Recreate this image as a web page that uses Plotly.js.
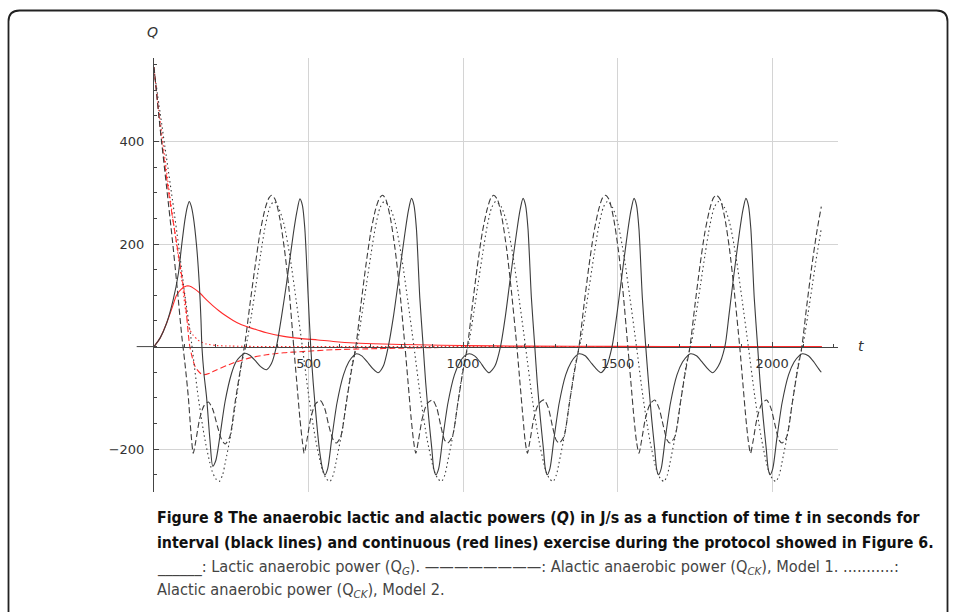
<!DOCTYPE html>
<html>
<head>
<meta charset="utf-8">
<script src="https://cdn.plot.ly/plotly-3.0.1.min.js"></script>
<style>
html,body{margin:0;padding:0;background:#fff;}
#chart{width:956px;height:612px;}
</style>
</head>
<body>
<div id="chart"></div>
<script>
// ---------- DATA ----------
// Black solid: lactic anaerobic power Q_G, interval exercise
const tG = [0,20,41,62,79,89,100,108,114,120,127,138,147,152,155,162,170,181,190,200,213,230,251,265,278,294,310,327,345,364,380,397,413,429,451,462,472,480,488,499,507,
515,525,535,545,553,562,575,592,613,630,645,655,672,690,708,725,742,758,775,790,812,823,833,841,849,860,871,
879,889,899,905,912,921,934,951,972,990,1005,1020,1037,1055,1070,1084,1103,1121,1137,1151,1173,1184,1194,1202,1210,1221,1232,
1240,1250,1260,1266,1272,1281,1294,1311,1332,1350,1365,1375,1395,1412,1430,1446,1464,1482,1497,1511,1532,1543,1553,1561,1569,1580,1591,
1600,1610,1620,1626,1632,1641,1654,1671,1692,1710,1726,1736,1755,1773,1791,1807,1826,1847,1860,1873,1894,1905,1915,1923,1931,1942,1953,
1961,1971,1981,1987,1993,2002,2015,2032,2053,2071,2087,2098,2117,2135,2150,2159];
const qG = [0,17,46,91,143,195,247,273,283,275,254,195,117,52,0,-55,-98,-182,-233,-222,-176,-107,-52,-30,-20,-13,-17,-27,-39,-45,-33,3,60,124,221,262,288,276,230,95,0,
-70,-140,-200,-238,-250,-238,-180,-110,-55,-30,-18,-14,-18,-30,-43,-51,-38,0,60,125,222,265,289,276,230,95,0,
-70,-140,-200,-238,-250,-238,-180,-110,-55,-30,-18,-14,-18,-30,-43,-51,-38,0,60,125,222,265,289,276,230,95,0,
-70,-140,-200,-238,-250,-238,-180,-110,-55,-30,-18,-14,-18,-30,-43,-51,-38,0,60,125,222,265,289,276,230,95,0,
-70,-140,-200,-238,-250,-238,-180,-110,-55,-30,-18,-14,-18,-30,-43,-51,-38,0,60,125,222,265,289,276,230,95,0,
-70,-140,-200,-238,-250,-238,-180,-110,-55,-30,-18,-14,-18,-30,-43,-50];

// Black dashed: alactic anaerobic power Q_CK, Model 1, interval exercise
const tD = [0,20,40,60,75,90,100,111,119,127,135,148,162,176,190,205,218,230,245,262,278,295,311,327,343,360,372,381,
392,407,422,437,452,462,472,480,486,494,507,522,538,552,566,580,590,604,622,638,653,669,685,701,717,730,740,
750,765,780,795,812,822,832,840,847,855,868,883,901,915,928,940,950,965,983,999,1014,1030,1046,1062,1078,1090,1099,
1111,1126,1141,1156,1174,1184,1194,1201,1208,1216,1229,1244,1262,1276,1289,1301,1311,1326,1344,1360,1375,1391,1407,1423,1439,1451,1460,
1472,1487,1502,1517,1533,1543,1553,1561,1569,1577,1590,1605,1620,1634,1648,1660,1669,1685,1703,1719,1734,1750,1766,1782,1798,1810,1820,
1832,1847,1862,1877,1895,1905,1915,1923,1930,1938,1951,1966,1982,1996,2010,2022,2032,2047,2065,2081,2096,2112,2128,2144,2159];
const qD = [545,425,315,205,115,20,-32,-98,-163,-208,-185,-140,-115,-108,-122,-155,-180,-190,-176,-110,-50,10,85,156,222,270,290,295,
287,250,190,110,0,-70,-140,-185,-208,-185,-140,-112,-105,-120,-155,-182,-188,-176,-110,-50,0,80,156,222,268,290,295,
287,250,190,110,0,-70,-140,-185,-208,-185,-140,-112,-104,-120,-155,-182,-188,-176,-110,-50,0,80,156,222,268,290,295,
287,250,190,110,0,-70,-140,-185,-208,-185,-140,-112,-104,-120,-155,-182,-188,-176,-110,-50,0,80,156,222,268,290,295,
287,250,190,110,0,-70,-140,-185,-208,-185,-140,-112,-104,-120,-155,-182,-188,-176,-110,-50,0,80,156,222,268,290,295,
287,250,190,110,0,-70,-140,-185,-208,-185,-140,-112,-104,-120,-155,-182,-188,-176,-110,-50,0,80,156,222,273];

// Black dotted: alactic anaerobic power Q_CK, Model 2, interval exercise
const tM = [0,20,40,60,80,100,116,122,143,165,187,200,211,222,230,251,267,284,300,315,330,345,360,375,388,
402,420,440,460,480,501,523,545,558,569,580,588,609,625,642,658,672,687,702,717,732,745,
763,781,801,821,841,862,884,906,919,930,941,949,970,986,1003,1019,1033,1048,1063,1078,1093,1106,
1124,1142,1162,1182,1202,1223,1245,1267,1280,1291,1302,1310,1331,1347,1364,1380,1394,1409,1424,1439,1454,1467,
1483,1501,1521,1541,1561,1582,1604,1626,1639,1650,1661,1669,1690,1706,1723,1739,1753,1768,1783,1798,1813,1827,
1845,1863,1883,1903,1923,1944,1966,1988,2001,2012,2023,2031,2052,2068,2085,2101,2115,2130,2145,2159];
const qM = [540,455,370,285,195,100,33,5,-98,-182,-241,-258,-263,-250,-228,-163,-98,-32,8,60,120,180,235,272,283,
272,240,175,90,0,-98,-182,-241,-258,-263,-250,-228,-163,-98,-32,8,60,120,180,235,272,283,
272,240,175,90,0,-98,-182,-241,-258,-263,-250,-228,-163,-98,-32,8,60,120,180,235,272,283,
272,240,175,90,0,-98,-182,-241,-258,-263,-250,-228,-163,-98,-32,8,60,120,180,235,272,283,
272,240,175,90,0,-98,-182,-241,-258,-263,-250,-228,-163,-98,-32,8,60,120,180,235,272,283,
272,240,175,90,0,-98,-182,-241,-258,-263,-250,-228,-163,-98,-32,8,60,120,180,230];

// Red solid: lactic power, continuous exercise
const tR = [0,20,41,60,73,90,105,114,130,149,170,190,210,230,256,278,310,337,364,420,472,530,580,650,742,850,1000,1200,1500,1800,2160];
const qR = [0,17,46,78,100,113,118,118,113,104,91,80,70,61,51,44,37,32,27,20,16,13,10,7,5,3.5,2,1,0.5,0.2,0];

// Red dashed: alactic power Model 1, continuous exercise
const tRD = [0,25,50,75,100,116,133,150,160,180,200,256,310,364,420,472,580,688,800,900,1000,1200,1500,2160];
const qRD = [545,400,290,195,95,0,-39,-52,-55,-52,-46,-32,-22,-16,-12,-10,-6,-4.5,-3,-2,-1.5,-1,-0.5,0];

// Red dotted: alactic power Model 2, continuous exercise
const tRM = [0,20,40,60,80,92,100,108,116,127,140,149,170,203,250,320,500,2160];
const qRM = [540,440,345,255,170,120,80,52,33,22,14,10,5,2,1,0.3,0,0];

// Axis ticks
const xTickVals = [500,1000,1500,2000];
const yTickVals = [-200,200,400];
const xRange = [0, 2213];
const yRange = [-283.5, 562.7];

// ---------- LAYOUT HELPERS ----------
const W = 956, H = 612;
const mL = 154, mR = 118, mT = 58, mB = 120;
const pw = W - mL - mR, ph = H - mT - mB;
const fx = px => (px - mL) / pw;           // pixel -> paper x
const fy = py => (H - mB - py) / ph;       // pixel -> paper y

const black = '#3c3c3c', red = '#ff2a2a';
function tr(x, y, color, dash, width) {
  return {x: x, y: y, type: 'scatter', mode: 'lines', hoverinfo: 'skip',
    line: {color: color, width: width, dash: dash, shape: 'spline', smoothing: 0.7}};
}
const data = [
  tr(tRM, qRM, red, '1.5px,2.5px', 1.1),
  tr(tRD, qRD, red, '6px,3px', 1.1),
  tr(tR, qR, red, 'solid', 1.1),
  tr(tM, qM, black, '1.5px,3px', 1.1),
  tr(tD, qD, black, '6px,3px', 1.1),
  tr(tG, qG, black, 'solid', 1.1)
];

// rounded frame path (paper coords)
const L = 8.5, T = 10.5, R = 947.5, B = 640, rad = 11;
const framePath =
  'M ' + fx(L) + ',' + fy(B) +
  ' L ' + fx(L) + ',' + fy(T + rad) +
  ' Q ' + fx(L) + ',' + fy(T) + ' ' + fx(L + rad) + ',' + fy(T) +
  ' L ' + fx(R - rad) + ',' + fy(T) +
  ' Q ' + fx(R) + ',' + fy(T) + ' ' + fx(R) + ',' + fy(T + rad) +
  ' L ' + fx(R) + ',' + fy(B);

const capFont = 'DejaVu Sans Condensed, Liberation Sans Narrow, sans-serif';
const cap = (py, text, size, color) => ({
  xref: 'paper', yref: 'paper', x: fx(155), y: fy(py), xanchor: 'left', yanchor: 'middle',
  text: text, showarrow: false, align: 'left',
  font: {family: capFont, size: size, color: color}
});

const layout = {
  width: W, height: H,
  margin: {l: mL, r: mR, t: mT, b: mB, pad: 0},
  paper_bgcolor: '#fff', plot_bgcolor: '#fff',
  showlegend: false,
  xaxis: {
    range: xRange, anchor: 'free', position: (0 - yRange[0]) / (yRange[1] - yRange[0]),
    showline: true, linecolor: '#444', linewidth: 1,
    tickvals: xTickVals, ticks: 'inside', ticklen: 5, tickcolor: '#444', tickwidth: 1,
    minor: {dtick: 100, tick0: 0, ticks: 'inside', ticklen: 3, tickcolor: '#444', showgrid: false},
    showgrid: true, gridcolor: '#d4d4d4', gridwidth: 1, zeroline: false,
    tickfont: {family: 'DejaVu Sans', size: 13, color: '#333'},
    ticklabelstandoff: 5,
    fixedrange: true
  },
  yaxis: {
    range: yRange, showline: true, linecolor: '#444', linewidth: 1,
    tickvals: yTickVals, ticks: 'inside', ticklen: 5, tickcolor: '#444', tickwidth: 1,
    minor: {dtick: 50, tick0: 0, ticks: 'inside', ticklen: 3, tickcolor: '#444', showgrid: false},
    showgrid: true, gridcolor: '#d4d4d4', gridwidth: 1, zeroline: false,
    tickfont: {family: 'DejaVu Sans', size: 13, color: '#333'},
    ticklabelstandoff: 6,
    fixedrange: true
  },
  shapes: [
    {type: 'line', xref: 'paper', yref: 'y', x0: fx(136.7), x1: 0, y0: 0, y1: 0,
     line: {color: '#444', width: 1}},
    {type: 'path', xref: 'paper', yref: 'paper', path: framePath,
     line: {color: '#222', width: 1.8}, layer: 'above'}
  ],
  annotations: [
    {xref: 'paper', yref: 'paper', x: fx(152), y: fy(32), text: '<i>Q</i>', showarrow: false,
     xanchor: 'center', yanchor: 'middle', font: {family: 'DejaVu Sans', size: 14, color: '#333'}},
    {xref: 'paper', yref: 'paper', x: fx(861), y: fy(346), text: '<i>t</i>', showarrow: false,
     xanchor: 'center', yanchor: 'middle', font: {family: 'DejaVu Sans', size: 14, color: '#333'}},
    cap(517, '<b>Figure 8 The anaerobic lactic and alactic powers (<i>Q</i>) in J/s as a function of time <i>t</i> in seconds for</b>', 15.8, '#111'),
    cap(542, '<b>interval (black lines) and continuous (red lines) exercise during the protocol showed in Figure 6.</b>', 15.8, '#111'),
    cap(567, '______: Lactic anaerobic power (Q<sub><i>G</i></sub>). ————————: Alactic anaerobic power (Q<sub><i>CK</i></sub>), Model 1. ...........:', 16.2, '#444'),
    cap(590, 'Alactic anaerobic power (Q<sub><i>CK</i></sub>), Model 2.', 16.2, '#444')
  ]
};

Plotly.newPlot('chart', data, layout, {staticPlot: true, displayModeBar: false});
</script>
</body>
</html>
